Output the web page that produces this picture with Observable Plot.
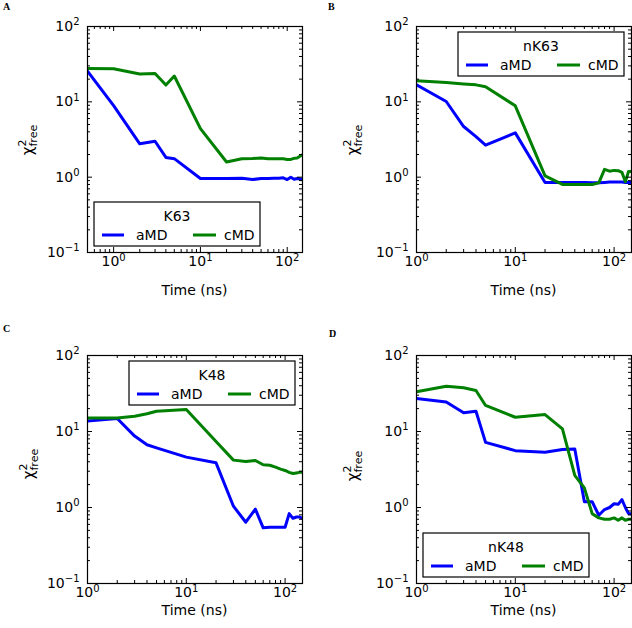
<!DOCTYPE html>
<html><head><meta charset="utf-8">
<script src="https://cdn.jsdelivr.net/npm/d3@7"></script>
<script src="https://cdn.jsdelivr.net/npm/@observablehq/plot@0.6"></script>
<style>
body{margin:0;background:#fff;}
#fig{position:relative;width:632px;height:628px;overflow:hidden;background:#fff;}
#fig > div{position:absolute;}
</style></head><body><div id="fig"></div>
<script>
// ---- data (time in ns, chi^2_free values) ----
const timesA = [0.5, 1, 2, 3, 4, 5, 10, 20, 30, 40, 50, 60, 70, 80, 90, 100, 110, 120, 130, 140, 150];
const timesBCD = [1, 2, 3, 4, 5, 10, 20, 30, 40, 50, 60, 70, 80, 90, 100, 110, 120, 130, 140, 150];

const aMD_K63 = [25.6, 8.9, 2.77, 3.0, 1.83, 1.76, 0.96, 0.96, 0.97, 0.93, 0.96, 0.96, 0.97, 0.97, 0.98, 0.93, 1.0, 0.94, 0.96, 0.95, 0.93];
const cMD_K63 = [27.7, 27.5, 23.4, 23.8, 16.7, 22.0, 4.4, 1.59, 1.76, 1.77, 1.8, 1.75, 1.76, 1.75, 1.76, 1.72, 1.72, 1.78, 1.8, 1.9, 1.97];

const aMD_nK63 = [16.8, 10.1, 4.7, 3.45, 2.66, 3.87, 0.85, 0.85, 0.85, 0.85, 0.84, 0.84, 0.85, 0.86, 0.86, 0.86, 0.86, 0.85, 0.85, 0.85];
const cMD_nK63 = [19.1, 18.0, 17.3, 16.8, 15.9, 8.86, 1.04, 0.80, 0.80, 0.80, 0.80, 0.84, 1.27, 1.2, 1.23, 1.22, 1.16, 0.87, 1.19, 1.19];

const aMD_K48 = [13.7, 14.8, 8.7, 6.7, 6.1, 4.6, 3.87, 1.04, 0.64, 0.95, 0.54, 0.55, 0.55, 0.55, 0.55, 0.83, 0.72, 0.75, 0.75, 0.72];
const cMD_K48 = [15.1, 15.1, 15.9, 17.1, 18.5, 19.5, 7.4, 4.2, 4.03, 4.15, 3.65, 3.6, 3.39, 3.2, 3.07, 2.9, 2.8, 2.85, 2.9, 2.9];

const aMD_nK48 = [27.2, 24.5, 17.6, 18.5, 7.2, 5.6, 5.35, 5.8, 5.9, 1.19, 1.19, 0.79, 0.94, 1.0, 1.12, 1.1, 1.27, 1.0, 0.83, 0.83];
const cMD_nK48 = [33.3, 39.5, 37.6, 34.6, 22.0, 15.4, 16.7, 10.8, 2.64, 1.81, 0.83, 0.73, 0.70, 0.70, 0.73, 0.68, 0.73, 0.68, 0.70, 0.70];

const yTickValues = [0.1, 1, 10, 100];
const yTickLabels = ["10\u207B\u00B9", "10\u2070", "10\u00B9", "10\u00B2"];
const xTickValues = [1, 10, 100];
const xTickLabels = ["10\u2070", "10\u00B9", "10\u00B2"];
const seriesNames = ["aMD", "cMD"];
const seriesColors = ["#0000ff", "#008000"];
const panelTitles = ["K63", "nK63", "K48", "nK48"];
const panelLetters = ["A", "B", "C", "D"];
const xAxisTitle = "Time (ns)";

// ---- layout ----
const W = 316, H = 314;
const panels = [
  {times: timesA, a: aMD_K63, c: cMD_K63, xDomain: [0.5, 150], left: 0, top: 0,
   m: {l: 87, r: 14, t: 26, b: 62}, leg: {x: 94, y: 202}, ylab: {x: 33, y: 140}, xlabY: 295, let: {x: 3, y: 10}},
  {times: timesBCD, a: aMD_nK63, c: cMD_nK63, xDomain: [1, 150], left: 316, top: 0,
   m: {l: 100, r: 1, t: 26, b: 62}, leg: {x: 142, y: 32}, ylab: {x: 42, y: 140}, xlabY: 295, let: {x: 12, y: 10}},
  {times: timesBCD, a: aMD_K48, c: cMD_K48, xDomain: [1, 150], left: 0, top: 314,
   m: {l: 87, r: 14, t: 41, b: 45}, leg: {x: 129, y: 47}, ylab: {x: 34, y: 150}, xlabY: 301, let: {x: 3, y: 18}},
  {times: timesBCD, a: aMD_nK48, c: cMD_nK48, xDomain: [1, 150], left: 316, top: 314,
   m: {l: 100, r: 1, t: 41, b: 45}, leg: {x: 107, y: 219}, ylab: {x: 42, y: 152}, xlabY: 301, let: {x: 13, y: 23}}
];

const supMap = {"\u207B": "\u2212", "\u00B9": "1", "\u00B2": "2", "\u2070": "0"};
function styleExponent(sel) {
  sel.each(function () {
    const s = this.textContent;
    const base = s.slice(0, 2);
    const exp = Array.from(s.slice(2)).map(ch => supMap[ch] || ch).join("");
    const t = d3.select(this);
    t.text(null);
    t.append("tspan").text(base);
    t.append("tspan").attr("font-size", 10).attr("dy", "-0.55em").text(exp);
  });
}

const fig = document.getElementById("fig");

panels.forEach((p, idx) => {
  const innerH = H - p.m.t - p.m.b;
  const innerW = W - p.m.l - p.m.r;
  const rowsA = p.times.map((t, i) => ({t, v: p.a[i]}));
  const rowsC = p.times.map((t, i) => ({t, v: p.c[i]}));
  const xAll = d3.scaleLog().domain(p.xDomain).ticks();
  const xMajor = xTickValues.filter(v => v >= p.xDomain[0] && v <= p.xDomain[1]);
  const xMinor = xAll.filter(v => !xMajor.includes(v) && v > p.xDomain[0] && v < p.xDomain[1]);
  const yAll = d3.scaleLog().domain([0.1, 100]).ticks();
  const yMinor = yAll.filter(v => !yTickValues.includes(v));
  const yMajor = yTickValues;
  const tickStyle = {stroke: "black", strokeWidth: 1};

  const plot = Plot.plot({
    width: W, height: H,
    marginLeft: p.m.l, marginRight: p.m.r, marginTop: p.m.t, marginBottom: p.m.b,
    x: {type: "log", domain: p.xDomain},
    y: {type: "log", domain: [0.1, 100]},
    style: {fontFamily: "'DejaVu Sans', sans-serif", fontSize: "14px", background: "white", color: "black", overflow: "visible"},
    marks: [
      Plot.line(rowsA, {x: "t", y: "v", stroke: seriesColors[0], strokeWidth: 3, clip: true}),
      Plot.line(rowsC, {x: "t", y: "v", stroke: seriesColors[1], strokeWidth: 3, clip: true}),
      Plot.tickX(xMinor, {x: d => d, insetTop: innerH - 3, ...tickStyle}),
      Plot.tickX(xMinor, {x: d => d, insetBottom: innerH - 3, ...tickStyle}),
      Plot.tickX(xMajor, {x: d => d, insetTop: innerH - 5, ...tickStyle}),
      Plot.tickX(xMajor, {x: d => d, insetBottom: innerH - 5, ...tickStyle}),
      Plot.tickY(yMinor, {y: d => d, insetRight: innerW - 3, ...tickStyle}),
      Plot.tickY(yMinor, {y: d => d, insetLeft: innerW - 3, ...tickStyle}),
      Plot.tickY(yMajor, {y: d => d, insetRight: innerW - 5, ...tickStyle}),
      Plot.tickY(yMajor, {y: d => d, insetLeft: innerW - 5, ...tickStyle}),
      Plot.frame({stroke: "black", strokeWidth: 1.2}),
      Plot.axisX({ticks: xMajor, tickFormat: d => xTickLabels[xTickValues.indexOf(d)], tickSize: 0, tickPadding: 4, label: null, fontSize: 14}),
      Plot.axisY({ticks: yTickValues, tickFormat: d => yTickLabels[yTickValues.indexOf(d)], tickSize: 0, tickPadding: 8, label: null, fontSize: 14})
    ]
  });

  const holder = document.createElement("div");
  holder.style.left = p.left + "px";
  holder.style.top = p.top + "px";
  holder.appendChild(plot);
  fig.appendChild(holder);

  const svg = d3.select(plot);
  svg.style("font-family", "'DejaVu Sans', sans-serif");

  // render tick label exponents as raised text
  styleExponent(svg.selectAll('g[aria-label="x-axis tick label"] text'));
  styleExponent(svg.selectAll('g[aria-label="y-axis tick label"] text'));

  // x-axis title
  svg.append("text")
    .attr("x", p.m.l + innerW / 2).attr("y", p.xlabY)
    .attr("text-anchor", "middle").attr("font-size", 14).attr("fill", "black")
    .text(xAxisTitle);

  // y-axis title: chi^2_free
  const yl = svg.append("text")
    .attr("transform", `translate(${p.ylab.x},${p.ylab.y}) rotate(-90)`)
    .attr("text-anchor", "middle").attr("fill", "black");
  yl.append("tspan").attr("font-size", 15).text("\u03C7");
  yl.append("tspan").attr("font-size", 11).attr("dy", -7).text("2");
  yl.append("tspan").attr("font-size", 11).attr("dx", -7).attr("dy", 11).text("free");

  // panel letter
  svg.append("text")
    .attr("x", p.let.x).attr("y", p.let.y)
    .attr("text-anchor", "start")
    .attr("font-family", "'Liberation Serif', serif").attr("font-weight", "bold")
    .attr("font-size", 10).attr("fill", "black")
    .text(panelLetters[idx]);

  // legend box
  const g = svg.append("g").attr("transform", `translate(${p.leg.x},${p.leg.y})`);
  g.append("rect").attr("width", 166).attr("height", 44)
    .attr("fill", "white").attr("stroke", "black").attr("stroke-width", 1.2);
  g.append("text").attr("x", 83).attr("y", 19).attr("text-anchor", "middle")
    .attr("font-size", 14).attr("fill", "black").text(panelTitles[idx]);
  const entryX = [[8, 30, 42], [99, 122, 130]];
  seriesNames.forEach((name, k) => {
    g.append("line").attr("x1", entryX[k][0]).attr("x2", entryX[k][1])
      .attr("y1", 33).attr("y2", 33)
      .attr("stroke", seriesColors[k]).attr("stroke-width", 3);
    g.append("text").attr("x", entryX[k][2]).attr("y", 38)
      .attr("text-anchor", "start")
      .attr("font-size", 14).attr("fill", "black").text(name);
  });
});
</script>
</body></html>
